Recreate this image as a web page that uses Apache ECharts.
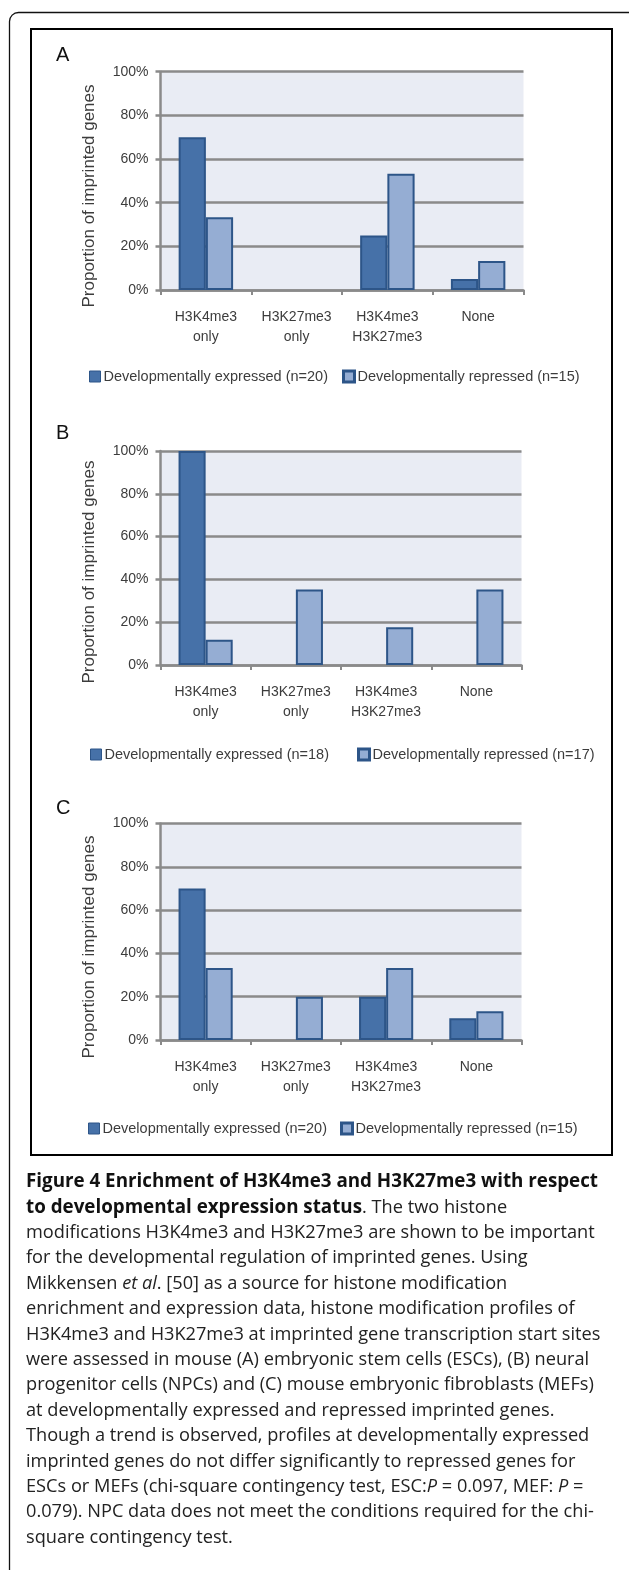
<!DOCTYPE html>
<html>
<head>
<meta charset="utf-8">
<script src="https://cdn.jsdelivr.net/npm/echarts@6/dist/echarts.min.js"></script>
<style>
  html, body { margin: 0; padding: 0; background: #fff; }
  #main { width: 629px; height: 1570px; }
</style>
</head>
<body>
<div id="main"></div>
<script>
// categories on the x axis (same for the three panels)
var categories = ['H3K4me3\nonly', 'H3K27me3\nonly', 'H3K4me3\nH3K27me3', 'None'];

// A: ESCs
var escNames = ['Developmentally expressed (n=20)', 'Developmentally repressed (n=15)'];
var escExpressed = [70, 0, 25, 5];
var escRepressed = [33.3, 0, 53.3, 13.3];

// B: NPCs
var npcNames = ['Developmentally expressed (n=18)', 'Developmentally repressed (n=17)'];
var npcExpressed = [100, 0, 0, 0];
var npcRepressed = [11.8, 35.3, 17.6, 35.3];

// C: MEFs
var mefNames = ['Developmentally expressed (n=20)', 'Developmentally repressed (n=15)'];
var mefExpressed = [70, 0, 20, 10];
var mefRepressed = [33.3, 20, 33.3, 13.3];

var yTitle = 'Proportion of imprinted genes';

var captionLines = [
  '{b|Figure 4 Enrichment of H3K4me3 and H3K27me3 with respect}',
  '{b|to developmental expression status}. The two histone',
  'modifications H3K4me3 and H3K27me3 are shown to be important',
  'for the developmental regulation of imprinted genes. Using',
  'Mikkensen {i|et al}. [50] as a source for histone modification',
  'enrichment and expression data, histone modification profiles of',
  'H3K4me3 and H3K27me3 at imprinted gene transcription start sites',
  'were assessed in mouse (A) embryonic stem cells (ESCs), (B) neural',
  'progenitor cells (NPCs) and (C) mouse embryonic fibroblasts (MEFs)',
  'at developmentally expressed and repressed imprinted genes.',
  'Though a trend is observed, profiles at developmentally expressed',
  'imprinted genes do not differ significantly to repressed genes for',
  'ESCs or MEFs (chi-square contingency test, ESC:{i|P} = 0.097, MEF: {i|P} =',
  '0.079). NPC data does not meet the conditions required for the chi-',
  'square contingency test.'
];

var darkBlue = '#4671a8';
var lightBlue = '#95add3';
var edgeBlue = '#2d5588';
var gridGray = '#8a8a8a';
var textColor = '#3c3c3c';
var chartFont = 'Liberation Sans';

// layout of the three panels
var panels = [
  { letter: 'A', names: escNames, expressed: escExpressed, repressed: escRepressed,
    left: 160.5, top: 71.7, width: 363, height: 218.3,
    letterY: 56, titleY: 196, legendY: 364, legendX: [84, 337] },
  { letter: 'B', names: npcNames, expressed: npcExpressed, repressed: npcRepressed,
    left: 160.5, top: 451, width: 361, height: 214,
    letterY: 434, titleY: 572, legendY: 742, legendX: [85, 352] },
  { letter: 'C', names: mefNames, expressed: mefExpressed, repressed: mefRepressed,
    left: 160.5, top: 823.5, width: 361, height: 216.5,
    letterY: 809, titleY: 947, legendY: 1116, legendX: [83, 335] }
];

function noZero(arr) {
  return arr.map(function (v) { return v === 0 ? '-' : v; });
}

var grid = [], xAxis = [], yAxis = [], series = [], legend = [], graphic = [];

panels.forEach(function (p, i) {
  grid.push({
    left: p.left, top: p.top, width: p.width, height: p.height,
    show: true, backgroundColor: '#e9ecf4', borderWidth: 0
  });
  xAxis.push({
    type: 'category', gridIndex: i, data: categories,
    axisLine: { lineStyle: { color: gridGray, width: 2.5 } },
    axisTick: { show: true, length: 5, lineStyle: { color: gridGray, width: 2 } },
    axisLabel: { interval: 0, margin: 17, fontSize: 14, lineHeight: 20, color: textColor, fontFamily: chartFont },
    splitLine: { show: false }
  });
  yAxis.push({
    type: 'value', gridIndex: i, min: 0, max: 100, interval: 20,
    axisLine: { show: true, lineStyle: { color: gridGray, width: 2.5 } },
    axisTick: { show: true, length: 5, lineStyle: { color: gridGray, width: 2.5 } },
    axisLabel: { formatter: '{value}%', fontSize: 14, margin: 12, color: textColor, fontFamily: chartFont },
    splitLine: { lineStyle: { color: gridGray, width: 2.5 } }
  });
  series.push({
    name: p.names[0], type: 'bar', xAxisIndex: i, yAxisIndex: i,
    data: noZero(p.expressed),
    barGap: '0%', barCategoryGap: '40%',
    itemStyle: { color: darkBlue, borderColor: edgeBlue, borderWidth: 2 }
  });
  series.push({
    name: p.names[1], type: 'bar', xAxisIndex: i, yAxisIndex: i,
    data: noZero(p.repressed),
    barGap: '0%', barCategoryGap: '40%',
    itemStyle: { color: lightBlue, borderColor: edgeBlue, borderWidth: 2 }
  });
  legend.push({
    data: [p.names[0]], left: p.legendX[0], top: p.legendY,
    icon: 'rect', itemWidth: 11, itemHeight: 11, itemGap: 0,
    itemStyle: { color: darkBlue, borderColor: edgeBlue, borderWidth: 1 },
    textStyle: { fontSize: 14.5, color: textColor, fontFamily: chartFont, padding: [0, 0, 0, -2] }
  });
  legend.push({
    data: [p.names[1]], left: p.legendX[1], top: p.legendY,
    icon: 'rect', itemWidth: 11, itemHeight: 11, itemGap: 0,
    itemStyle: { color: lightBlue, borderColor: edgeBlue, borderWidth: 3 },
    textStyle: { fontSize: 14.5, color: textColor, fontFamily: chartFont, padding: [0, 0, 0, -2] }
  });
  graphic.push({
    type: 'text', left: 56, top: p.letterY - 11,
    style: { text: p.letter, fontSize: 20, fill: '#111', fontFamily: chartFont }
  });
  graphic.push({
    type: 'text', x: 89, y: p.titleY, rotation: Math.PI / 2,
    style: { text: yTitle, fontSize: 17, fill: textColor, fontFamily: chartFont,
      align: 'center', verticalAlign: 'middle' }
  });
});

// outer rounded frame and inner box
graphic.push({
  type: 'rect', shape: { x: 9.5, y: 12.5, width: 640, height: 1600, r: 9 },
  style: { fill: 'none', stroke: '#111', lineWidth: 1.3 }
});
graphic.push({
  type: 'rect', shape: { x: 31, y: 29, width: 581, height: 1126 },
  style: { fill: 'none', stroke: '#000', lineWidth: 2 }
});

// caption
captionLines.forEach(function (line, k) {
  graphic.push({
    type: 'text', x: 26, y: 1182 + k * 25.4,
    style: {
      text: line, fontSize: 18.2, fill: '#222', fontFamily: 'Open Sans',
      verticalAlign: 'middle',
      rich: {
        b: { fontWeight: 'bold', fontSize: 18.8, fill: '#111', fontFamily: 'Open Sans' },
        i: { fontStyle: 'italic', fontSize: 18.2, fill: '#222', fontFamily: 'Open Sans' }
      }
    }
  });
});

var chart = echarts.init(document.getElementById('main'), null, { renderer: 'canvas' });
chart.setOption({
  animation: false,
  grid: grid,
  xAxis: xAxis,
  yAxis: yAxis,
  legend: legend,
  series: series,
  graphic: graphic
});

window.addEventListener('resize', function () {
  chart.resize();
});
</script>
</body>
</html>
